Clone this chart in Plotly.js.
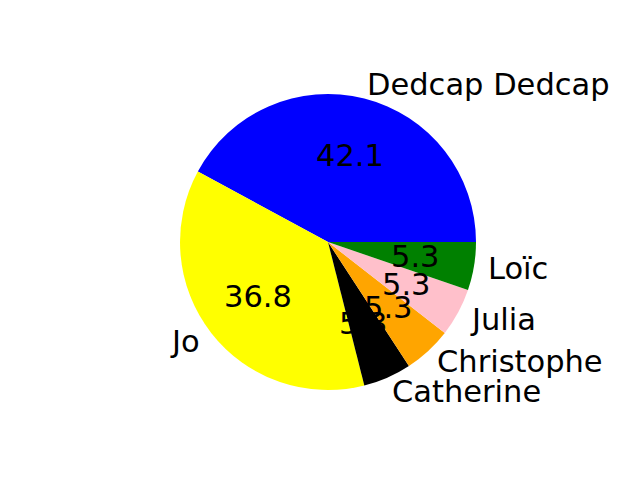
<!DOCTYPE html>
<html>
<head>
<meta charset="utf-8">
<script src="https://cdn.plot.ly/plotly-3.0.1.min.js"></script>
<style>html,body{margin:0;padding:0;background:#fff}</style>
</head>
<body>
<div id="chart" style="width:640px;height:480px"></div>
<script>
const labels = ["Dedcap Dedcap", "Jo", "Catherine", "Christophe", "Julia", "Loïc"];
const values = [8, 7, 1, 1, 1, 1];
const colors = ["#0000ff", "#ffff00", "#000000", "#ffa500", "#ffc0cb", "#008000"];

const W = 640, H = 480;
const cx = 328, cy = 242, R = 148; // pixel layout of pie
const domX = [(cx - R) / W, (cx + R) / W];
const domY = [1 - (cy + R) / H, 1 - (cy - R) / H];
const fontFam = "DejaVu Sans, sans-serif";
const fs = 30.5;

const total = values.reduce((a, b) => a + b, 0);
const annotations = [];
let start = 0;
values.forEach((v, i) => {
  const frac = v / total;
  const mid = (start + frac / 2) * 2 * Math.PI;
  start += frac;
  const c = Math.cos(mid), s = Math.sin(mid);
  const lx = cx + 1.1 * R * c, ly = cy - 1.1 * R * s;
  annotations.push({
    x: lx / W, y: 1 - ly / H, xref: "paper", yref: "paper",
    text: labels[i], showarrow: false,
    xanchor: c > 0 ? "left" : "right", yanchor: "middle",
    xshift: c > 0 ? -3 : 2,
    font: {family: fontFam, size: fs, color: "#000"}
  });
  const px = cx + 0.6 * R * c, py = cy - 0.6 * R * s;
  annotations.push({
    x: px / W, y: 1 - py / H, xref: "paper", yref: "paper",
    text: (frac * 100).toFixed(1), showarrow: false,
    xanchor: "center", yanchor: "middle",
    font: {family: fontFam, size: fs, color: "#000"}
  });
});

// Plotly's counterclockwise mode: first slice spans [rotation, rotation + slice] clockwise from 12 o'clock.
// Make the first slice start at 3 o'clock going counterclockwise (like matplotlib).
const rotation = 90 - 360 * values[0] / total;

const data = [{
  type: "pie",
  labels: labels,
  values: values,
  sort: false,
  direction: "counterclockwise",
  rotation: rotation,
  marker: {colors: colors, line: {width: 0}},
  textinfo: "none",
  hoverinfo: "none",
  showlegend: false,
  domain: {x: domX, y: domY}
}];

const layout = {
  width: W, height: H,
  margin: {l: 0, r: 0, t: 0, b: 0},
  paper_bgcolor: "#ffffff",
  plot_bgcolor: "#ffffff",
  showlegend: false,
  annotations: annotations
};

Plotly.newPlot("chart", data, layout, {displayModeBar: false, staticPlot: true});
</script>
</body>
</html>
